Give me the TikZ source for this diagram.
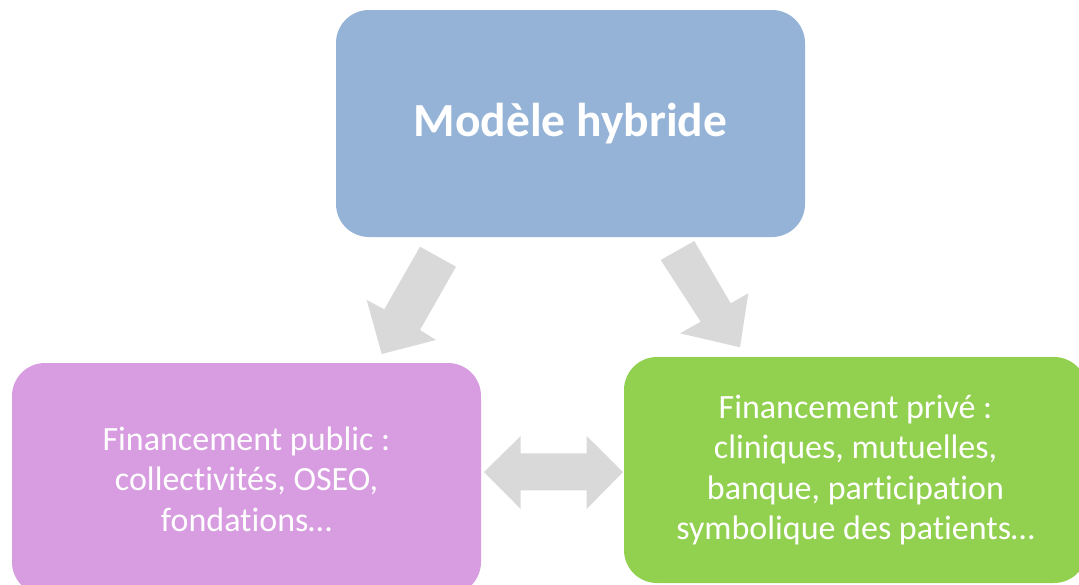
\documentclass[tikz,border=0pt]{standalone}
\usepackage{fontspec}
\setmainfont{Carlito}[Ligatures={NoCommon}]
\definecolor{hybblue}{HTML}{95B3D7}
\definecolor{hybpink}{HTML}{D79DE0}
\definecolor{hybgreen}{HTML}{92D050}
\definecolor{hybgray}{HTML}{D9D9D9}
\tikzset{
  bloc/.style = {fill=#1, rounded corners=33pt, inner sep=0pt, text=white, align=center},
  fleche/.style = {fill=hybgray, draw=none}
}

\begin{document}
\begin{tikzpicture}[x=1pt, y=-1pt]
      \useasboundingbox (0,0) rectangle (1079,584);
      % les trois blocs
      \node[bloc=hybblue, minimum width=469pt, minimum height=227pt,
            font=\fontsize{47.5}{54}\selectfont\bfseries] (hybride) at (570.5,123.5) {Modèle hybride};
      \node[bloc=hybpink, minimum width=469pt, minimum height=232pt,
            font=\fontsize{34}{40.6}\selectfont] (public) at (246.5,479)
            {Financement public :\\collectivités, OSEO,\\fondations…};
      \node[bloc=hybgreen, minimum width=463pt, minimum height=226pt,
            font=\fontsize{34}{40.6}\selectfont] (prive) at (855.5,470)
            {Financement privé :\\cliniques, mutuelles,\\banque, participation\\symbolique des patients…};
      % les fleches
      \fill[fleche] (420,246.7) -- (456,266.7) -- (420,330) -- (436,340) -- (381.7,354)
                    -- (366.7,300) -- (384.3,309.3) -- cycle;
      \fill[fleche] (694.3,241) -- (660.7,260) -- (700.7,321.7) -- (680,333.3) -- (740,347.3)
                    -- (748.3,293.3) -- (730.7,303.3) -- cycle;
      \fill[fleche] (484,472) -- (520.7,436) -- (520.7,453.3) -- (586.7,453.3) -- (586.7,436)
                    -- (623,472) -- (586.7,509) -- (586.7,490.3) -- (520.7,490.3) -- (520.7,509) -- cycle;
\end{tikzpicture}
\end{document}
